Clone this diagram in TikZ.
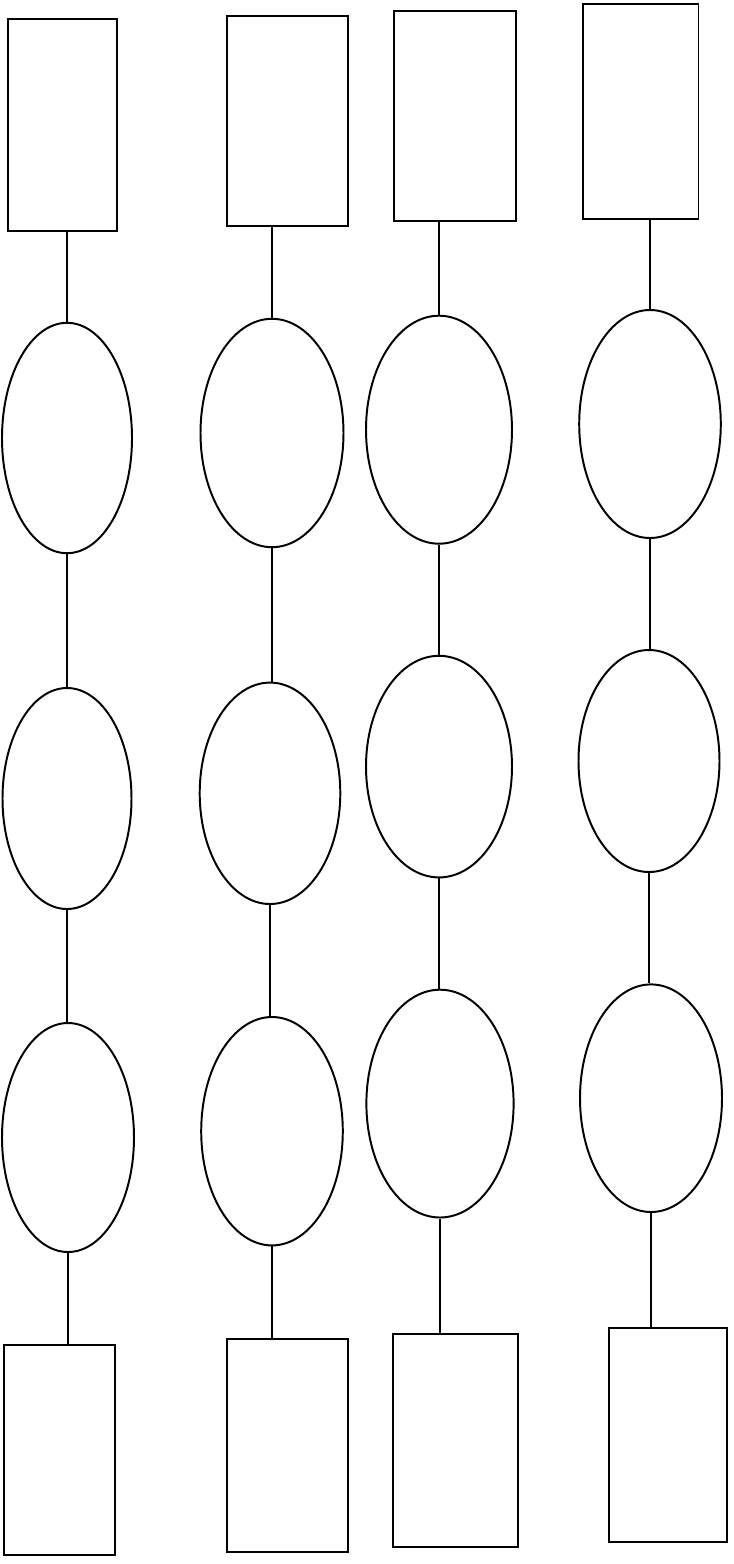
\documentclass[tikz,border=0pt]{standalone}
\usetikzlibrary{shapes.geometric}

\begin{document}
\begin{tikzpicture}[
  x=0.5mm, y=-0.5mm,
  line width=2.8pt,
  card/.style={draw, rectangle, inner sep=0pt},
  oval/.style={draw, ellipse, inner sep=0pt},
]
\useasboundingbox[fill=white] (0,0) rectangle (734,1564);

% column 1
\node[card, minimum width=54.5mm, minimum height=106mm] (t1) at (62.5,125) {};
\node[oval, minimum width=65mm, minimum height=115.2mm] (a1) at (67,438) {};
\node[oval, minimum width=64.5mm, minimum height=110.5mm] (b1) at (67,798.5) {};
\node[oval, minimum width=66mm, minimum height=114.5mm] (c1) at (68,1137.5) {};
\node[card, minimum width=55.5mm, minimum height=105mm] (u1) at (59.5,1450) {};

% column 2
\node[card, minimum width=60.8mm, minimum height=105mm] (t2) at (287.5,121) {};
\node[oval, minimum width=71.5mm, minimum height=114.2mm] (a2) at (272,433) {};
\node[oval, minimum width=70.3mm, minimum height=110.7mm] (b2) at (270,793.3) {};
\node[oval, minimum width=70.8mm, minimum height=114.2mm] (c2) at (272,1131.2) {};
\node[card, minimum width=60.8mm, minimum height=106.3mm] (u2) at (287.5,1445.3) {};

% column 3
\node[card, minimum width=61.2mm, minimum height=105.4mm] (t3) at (454.8,116) {};
\node[oval, minimum width=73mm, minimum height=114mm] (a3) at (439,429.7) {};
\node[oval, minimum width=73mm, minimum height=110.8mm] (b3) at (439,766.6) {};
\node[oval, minimum width=73.6mm, minimum height=113.9mm] (c3) at (440,1103.6) {};
\node[card, minimum width=62.5mm, minimum height=106.3mm] (u3) at (455.5,1440.3) {};

% column 4
\node[card, minimum width=57.8mm, minimum height=107.6mm] (t4) at (640.7,111.4) {};
\node[oval, minimum width=70.8mm, minimum height=114mm] (a4) at (650,424) {};
\node[oval, minimum width=70.5mm, minimum height=111mm] (b4) at (649,761) {};
\node[oval, minimum width=71mm, minimum height=113.8mm] (c4) at (651,1098.2) {};
\node[card, minimum width=59mm, minimum height=106.8mm] (u4) at (668,1434.8) {};

\foreach \c in {1,...,4} {
  \draw (a\c.north) -- (a\c.north |- t\c.south);
  \draw (a\c.south) -- (a\c.south |- b\c.north);
  \draw (b\c.south) -- (b\c.south |- c\c.north);
  \draw (c\c.south) -- (c\c.south |- u\c.north);
}
\end{tikzpicture}
\end{document}
